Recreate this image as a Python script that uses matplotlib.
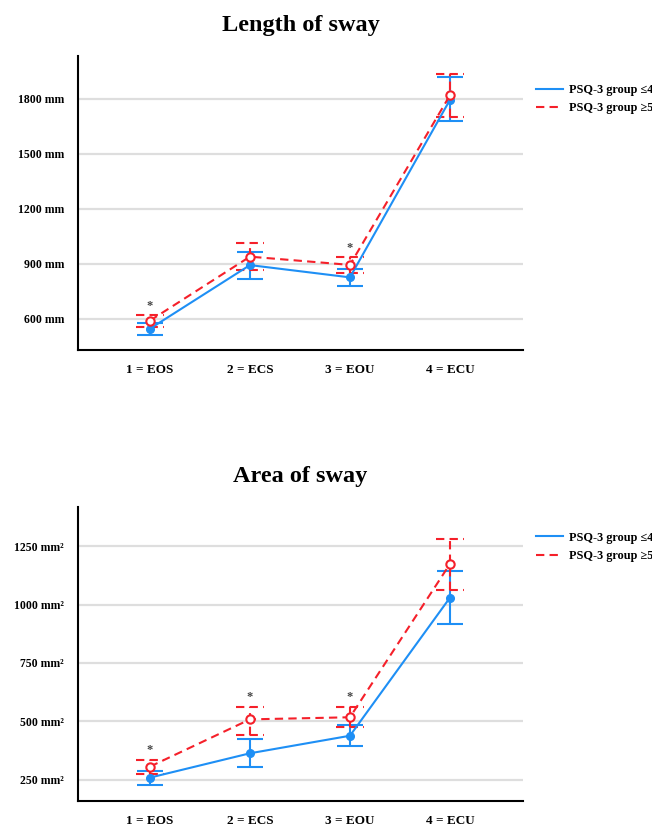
import numpy as np
import matplotlib
matplotlib.use("Agg")
import matplotlib.pyplot as plt
from matplotlib.lines import Line2D

plt.rcParams['font.family'] = ['Liberation Serif', 'DejaVu Serif']
plt.rcParams['font.weight'] = 'bold'

# ==============================
# DATA
# ==============================

conditions = ["1 = EOS", "2 = ECS", "3 = EOU", "4 = ECU"]
group_labels = ["PSQ-3 group \u22644", "PSQ-3 group \u22655"]

# Length of sway (mm)
len_low_mean = [547, 894, 827, 1795]
len_low_hi = [580, 967, 871, 1919]
len_low_lo = [513, 817, 782, 1680]
len_high_mean = [591, 940, 895, 1820]
len_high_hi = [620, 1013, 937, 1937]
len_high_lo = [558, 867, 849, 1704]
len_signif = [True, False, True, False]
len_ticks = [600, 900, 1200, 1500, 1800]

# Area of sway (mm2)
area_low_mean = [260, 364, 439, 1029]
area_low_hi = [288, 426, 484, 1143]
area_low_lo = [230, 304, 395, 915]
area_high_mean = [307, 509, 518, 1173]
area_high_hi = [335, 563, 561, 1279]
area_high_lo = [276, 444, 478, 1062]
area_signif = [True, True, True, False]
area_ticks = [250, 500, 750, 1000, 1250]

BLUE = "#1e8ff5"
RED = "#f5202a"
GRID = "#dedede"
DASH = (0, (4, 2.5))


def draw_panel(ax, title, low, high, signif, ticks, unit, ylim, star_off,
               leg_y):
    x = np.arange(1, len(conditions) + 1)
    for y in ticks:
        ax.axhline(y, color=GRID, lw=1.6, zorder=0)

    lm, lh, ll = [np.array(v) for v in low]
    hm, hh, hl = [np.array(v) for v in high]

    # group <=4 : solid blue
    ax.vlines(x, ll, lh, color=BLUE, lw=1.5, zorder=2)
    ax.hlines(lh, x - 0.13, x + 0.13, color=BLUE, lw=1.5, zorder=2)
    ax.hlines(ll, x - 0.13, x + 0.13, color=BLUE, lw=1.5, zorder=2)
    ax.plot(x, lm, color=BLUE, lw=1.5, marker='o', ms=5.5,
            mfc=BLUE, mec=BLUE, zorder=3)

    # group >=5 : dashed red
    ax.vlines(x, hl, hh, color=RED, lw=1.5, linestyles=DASH, zorder=2)
    ax.hlines(hh, x - 0.14, x + 0.14, color=RED, lw=1.5,
              linestyles=DASH, zorder=2)
    ax.hlines(hl, x - 0.14, x + 0.14, color=RED, lw=1.5,
              linestyles=DASH, zorder=2)
    ax.plot(x, hm, color=RED, lw=1.5, ls=DASH, marker='o', ms=6,
            mfc='white', mec=RED, mew=1.5, zorder=4)

    for xi, s, top in zip(x, signif, hh):
        if s:
            ax.text(xi, top + star_off, "*", ha='center', va='bottom',
                    fontsize=9, color='#444444')

    ax.set_xlim(0.28, 4.73)
    ax.set_ylim(*ylim)
    ax.set_xticks(x)
    ax.set_xticklabels(conditions, fontsize=9.5, fontweight='bold')
    ax.set_yticks(ticks)
    ax.set_yticklabels([f"{t} {unit}" for t in ticks], fontsize=8.5,
                       fontweight='bold')
    ax.tick_params(axis='both', length=0)
    ax.tick_params(axis='y', pad=10)
    ax.tick_params(axis='x', pad=10)
    for side in ['top', 'right']:
        ax.spines[side].set_visible(False)
    for side in ['left', 'bottom']:
        ax.spines[side].set_linewidth(1.5)
    ax.set_title(title, fontsize=17.5, fontweight='bold', pad=18)

    handles = [Line2D([], [], color=BLUE, lw=1.5),
               Line2D([], [], color=RED, lw=1.5, ls=DASH)]
    ax.legend(handles, group_labels, loc='upper left',
              bbox_to_anchor=(1.03, leg_y), frameon=False,
              fontsize=8.8, handlelength=2.2, handletextpad=0.5,
              labelspacing=0.5, borderaxespad=0, borderpad=0)


fig = plt.figure(figsize=(6.52, 8.25), dpi=100)
ax1 = fig.add_axes([0.1196, 0.5758, 0.6824, 0.3562])
ax2 = fig.add_axes([0.1196, 0.0295, 0.6824, 0.3563])

draw_panel(ax1, "Length of sway",
           (len_low_mean, len_low_hi, len_low_lo),
           (len_high_mean, len_high_hi, len_high_lo),
           len_signif, len_ticks, "mm", (431, 2034), 18, 0.905)
draw_panel(ax2, "Area of sway",
           (area_low_mean, area_low_hi, area_low_lo),
           (area_high_mean, area_high_hi, area_high_lo),
           area_signif, area_ticks, "mm\u00b2", (161.5, 1418), 18, 0.915)

fig.savefig("out.png", dpi=100)
